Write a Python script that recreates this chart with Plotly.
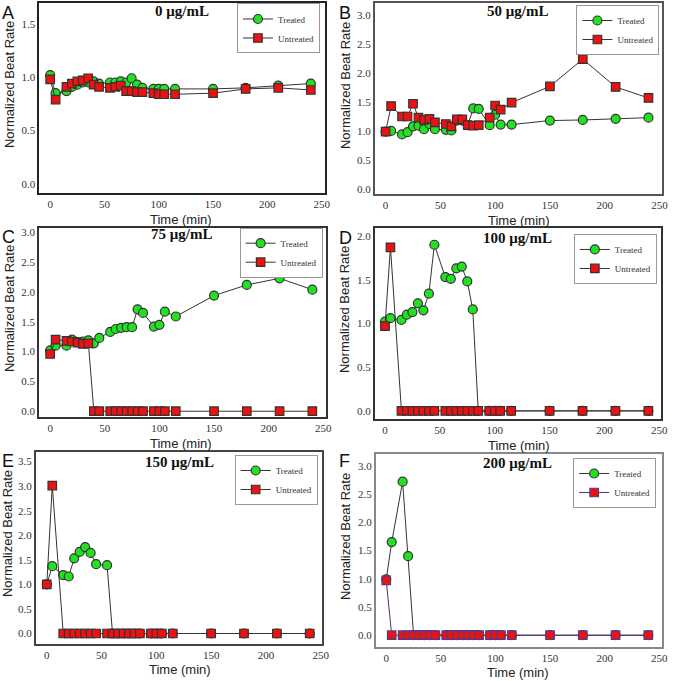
import plotly.graph_objects as go

W, H = 676, 681

time_min = [0, 5, 15, 20, 25, 30, 35, 40, 45, 55, 60, 65, 70, 75, 80, 85,
            95, 100, 105, 115, 150, 180, 210, 240]

# 0 ug/mL
treated_0 = [1.02, 0.85, 0.87, 0.91, 0.93, 0.95, 0.95, 0.96, 0.94, 0.95, 0.95, 0.96,
             0.95, 0.99, 0.93, 0.90, 0.89, 0.89, 0.89, 0.89, 0.89, 0.90, 0.92, 0.94]
untreated_0 = [0.98, 0.79, 0.91, 0.94, 0.96, 0.97, 0.99, 0.93, 0.91, 0.90, 0.91, 0.92,
               0.87, 0.87, 0.86, 0.86, 0.85, 0.84, 0.84, 0.84, 0.85, 0.89, 0.90, 0.88]

# 50 ug/mL
treated_50 = [0.99, 1.00, 0.94, 0.98, 1.08, 1.09, 1.03, 1.12, 1.03, 1.02, 1.01, 1.18,
              1.18, 1.10, 1.39, 1.38, 1.10, 1.28, 1.11, 1.11, 1.18, 1.19, 1.21, 1.23]
untreated_50 = [0.99, 1.43, 1.25, 1.25, 1.47, 1.23, 1.19, 1.21, 1.15, 1.12, 1.08, 1.20,
                1.20, 1.10, 1.09, 1.10, 1.23, 1.44, 1.37, 1.49, 1.77, 2.24, 1.76, 1.57]

# 75 ug/mL
treated_75 = [1.02, 1.10, 1.10, 1.20, 1.16, 1.17, 1.19, 1.14, 1.23, 1.33, 1.38, 1.40,
              1.41, 1.41, 1.71, 1.65, 1.42, 1.45, 1.67, 1.59, 1.94, 2.12, 2.23, 2.04]
untreated_75 = [0.96, 1.20, 1.18, 1.17, 1.15, 1.13, 1.14, 0, 0, 0, 0, 0,
                0, 0, 0, 0, 0, 0, 0, 0, 0, 0, 0, 0]

# 100 ug/mL
treated_100 = [1.02, 1.06, 1.04, 1.10, 1.13, 1.23, 1.15, 1.34, 1.90, 1.53, 1.51, 1.63,
               1.65, 1.48, 1.16, 0, 0, 0, 0, 0, 0, 0, 0, 0]
untreated_100 = [0.97, 1.87, 0, 0, 0, 0, 0, 0, 0, 0, 0, 0,
                 0, 0, 0, 0, 0, 0, 0, 0, 0, 0, 0, 0]

# 150 ug/mL
treated_150 = [1.00, 1.37, 1.19, 1.16, 1.53, 1.66, 1.76, 1.64, 1.41, 1.39, 0, 0,
               0, 0, 0, 0, 0, 0, 0, 0, 0, 0, 0, 0]
untreated_150 = [1.00, 3.01, 0, 0, 0, 0, 0, 0, 0, 0, 0, 0,
                 0, 0, 0, 0, 0, 0, 0, 0, 0, 0, 0, 0]

# 200 ug/mL
treated_200 = [0.99, 1.65, 2.72, 1.40, 0, 0, 0, 0, 0, 0, 0, 0,
               0, 0, 0, 0, 0, 0, 0, 0, 0, 0, 0, 0]
untreated_200 = [0.97, 0, 0, 0, 0, 0, 0, 0, 0, 0, 0, 0,
                 0, 0, 0, 0, 0, 0, 0, 0, 0, 0, 0, 0]

panel_letters = ["A", "B", "C", "D", "E", "F"]
panel_titles = ["0 μg/mL", "50 μg/mL", "75 μg/mL", "100 μg/mL", "150 μg/mL", "200 μg/mL"]
series = [(treated_0, untreated_0), (treated_50, untreated_50), (treated_75, untreated_75),
          (treated_100, untreated_100), (treated_150, untreated_150), (treated_200, untreated_200)]
y_tops = [1.5, 3.0, 3.0, 2.0, 3.5, 3.0]


def px(x, y):
    return x / W, 1 - y / H


# layout in pixels: box (left, top, right, bottom), x range, y range, legend (right, top),
# title, y-title, x-title, letter centres, frame colour
panels = [
    dict(box=(39.5, 1.5, 328, 192.3), xr=[-10.2, 252.7], yr=[-0.089, 1.69], leg=(323.3, 1.5),
         title=(184, 9), ytitle=(9.5, 83), xtitle=(183, 218), letter=(8.5, 11), frame="#222"),
    dict(box=(378.7, 1, 669, 192.7), xr=[-9.9, 252.4], yr=[-0.086, 3.21], leg=(666.3, 3),
         title=(523, 9), ytitle=(349, 84), xtitle=(524, 219), letter=(349, 11), frame="#555"),
    dict(box=(39.3, 227.3, 329.3, 417.3), xr=[-10.3, 252.4], yr=[-0.105, 3.07], leg=(326, 226.7),
         title=(183, 233), ytitle=(9, 307.5), xtitle=(183, 443), letter=(8.5, 236), frame="#333"),
    dict(box=(378.7, 226.7, 668, 419.3), xr=[-9.3, 251.6], yr=[-0.098, 2.095], leg=(663.7, 233),
         title=(523, 237), ytitle=(348, 309), xtitle=(524, 445), letter=(349, 237), frame="#333"),
    dict(box=(36, 451.7, 325.7, 645), xr=[-10.2, 251.5], yr=[-0.217, 3.70], leg=(321, 455),
         title=(181, 462), ytitle=(7.5, 534), xtitle=(182, 670), letter=(8.5, 461), frame="#444"),
    dict(box=(379.7, 454, 669, 647.7), xr=[-9.6, 252.6], yr=[-0.206, 3.21], leg=(663, 458),
         title=(523, 463), ytitle=(349, 537), xtitle=(523, 673), letter=(348, 461.5), frame="#888"),
]

fig = go.Figure()
layout = dict(width=W, height=H, margin=dict(l=0, r=0, t=0, b=0),
              paper_bgcolor="white", plot_bgcolor="white", annotations=[])

serif = "Liberation Serif, Times New Roman, serif"
sans = "Liberation Sans, Arial, sans-serif"

for i, p in enumerate(panels):
    n = "" if i == 0 else str(i + 1)
    leg = "legend" if i == 0 else "legend" + str(i + 1)
    treated, untreated = series[i]
    line_col = "#5c2d6e" if i == 5 else "#333"
    edge_col = "#4a3f8f" if i == 5 else "#333"

    fig.add_trace(go.Scatter(
        x=time_min, y=treated, mode="lines+markers", name="Treated",
        xaxis="x" + n, yaxis="y" + n, legend=leg,
        line=dict(color="#333", width=1),
        marker=dict(symbol="circle", size=9, color="#22e022", line=dict(color="#333", width=1.2))))
    fig.add_trace(go.Scatter(
        x=time_min, y=untreated, mode="lines+markers", name="Untreated",
        xaxis="x" + n, yaxis="y" + n, legend=leg,
        line=dict(color=line_col, width=1),
        marker=dict(symbol="square", size=8.5, color="#ee1111", line=dict(color=edge_col, width=1.2))))

    l, t, r, b = p["box"]
    x0, y0 = px(l, b)
    x1, y1 = px(r, t)
    axis_common = dict(showgrid=False, zeroline=False, showline=True, mirror=True,
                       linecolor=p["frame"], linewidth=1.5, ticks="",
                       tickfont=dict(family=serif, size=11, color="#333"))
    layout["xaxis" + n] = dict(axis_common, domain=[x0, x1], range=p["xr"],
                               anchor="y" + n, tickvals=[0, 50, 100, 150, 200, 250])
    yticks = [k * 0.5 for k in range(int(y_tops[i] / 0.5) + 1)]
    layout["yaxis" + n] = dict(axis_common, domain=[y0, y1], range=p["yr"],
                               anchor="x" + n, tickvals=yticks,
                               ticktext=["%.1f" % v for v in yticks])

    lx, ly = px(*p["leg"])
    layout[leg] = dict(x=lx, y=ly, xanchor="right", yanchor="top",
                       bgcolor="white", bordercolor="#999", borderwidth=1,
                       font=dict(family=serif, size=9, color="#333"),
                       tracegroupgap=0, itemwidth=30)

    tx, ty = px(*p["title"])
    layout["annotations"].append(dict(
        text="<b>" + panel_titles[i] + "</b>", x=tx, y=ty, xref="paper", yref="paper",
        xanchor="center", yanchor="middle", showarrow=False,
        font=dict(family=serif, size=15, color="#111")))
    yx, yy = px(*p["ytitle"])
    layout["annotations"].append(dict(
        text="Normalized Beat Rate", x=yx, y=yy, xref="paper", yref="paper",
        xanchor="center", yanchor="middle", showarrow=False, textangle=-90,
        font=dict(family=sans, size=13, color="#222")))
    xx, xy = px(*p["xtitle"])
    layout["annotations"].append(dict(
        text="Time (min)", x=xx, y=xy, xref="paper", yref="paper",
        xanchor="center", yanchor="middle", showarrow=False,
        font=dict(family=sans, size=13, color="#222")))
    ax_, ay_ = px(*p["letter"])
    layout["annotations"].append(dict(
        text=panel_letters[i], x=ax_, y=ay_, xref="paper", yref="paper",
        xanchor="center", yanchor="middle", showarrow=False,
        font=dict(family=sans, size=18, color="#111")))

fig.update_layout(**layout)
# the page's default body margin would push the fixed-size figure 8px off
fig.write_html("out.html", config={"displayModeBar": False},
               post_script="document.body.style.margin = '0px';")
